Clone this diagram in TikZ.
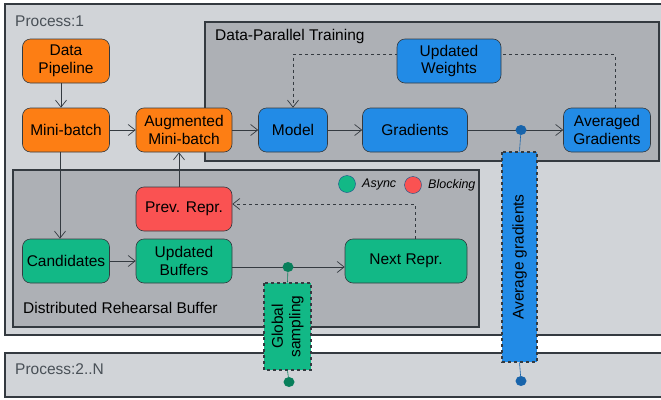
\documentclass[tikz,border=0pt]{standalone}
\usepackage{fontspec}
\setmainfont{Liberation Sans}
\usetikzlibrary{arrows.meta,shapes.geometric}
\definecolor{procgray}{HTML}{D1D4D8}
\definecolor{boxgray}{HTML}{ADB0B5}
\definecolor{edgegray}{HTML}{343A40}
\definecolor{titlegray}{HTML}{495057}
\definecolor{xorange}{HTML}{FD7E14}
\definecolor{xblue}{HTML}{228BE6}
\definecolor{xgreen}{HTML}{12B886}
\definecolor{xred}{HTML}{FA5252}
\definecolor{dotgreen}{HTML}{087F5B}
\definecolor{dotblue}{HTML}{1864AB}
\tikzset{
    proc/.style={draw=edgegray, line width=1.2pt, fill=procgray},
    group/.style={draw=edgegray, line width=1.2pt, fill=boxgray},
    title/.style={anchor=west, inner sep=0pt, font=\fontsize{15.5}{18}\selectfont},
    block/.style={draw=edgegray, line width=0.6pt, rounded corners=8pt, minimum height=44pt, align=center, inner sep=2pt, font=\fontsize{15.5}{17.5}\selectfont},
    flow/.style={draw=edgegray, line width=0.7pt, -{Straight Barb[length=7pt,width=11pt]}},
    back/.style={flow, dashed},
    comm/.style={draw=edgegray, line width=1.2pt, dashed, minimum width=#1, align=center, font=\fontsize{15.5}{17.5}\selectfont, rotate=90},
    syncdot/.style={ellipse, minimum width=11pt, minimum height=10pt, inner sep=0pt},
    legdot/.style={circle, draw=xblue!60!black, line width=0.4pt, minimum size=17pt, inner sep=0pt},
    legtext/.style={anchor=west, inner sep=0pt, font=\fontsize{12.5}{14}\selectfont\itshape},
}
\begin{document}
\begin{tikzpicture}[x=1pt,y=-1pt]
    \useasboundingbox (0,0) rectangle (661,399);
    % process boxes
    \draw[proc] (5,4) rectangle (668,335);
    \draw[proc] (5,353) rectangle (668,397);
    \node[title, text=titlegray] (p1) at (15,21) {Process:1};
    \node[title, text=titlegray] (p2) at (15,369) {Process:2..N};
    % groups
    \draw[group] (205,22) rectangle (659,161);
    \draw[group] (13,170) rectangle (479,327);
    \node[title] (dpt) at (215,36) {Data-Parallel Training};
    \node[title] (drb) at (23,308) {Distributed Rehearsal Buffer};
    % legend
    \node[legdot, fill=xgreen] (async) at (347,184) {};
    \node[legtext] (asynct) at (362,184) {Async};
    \node[legdot, fill=xred] (block) at (413,185) {};
    \node[legtext] (blockt) at (428,185) {Blocking};
    % blocks
    \node[block, fill=xorange, minimum width=87pt] (data) at (66,61) {Data\\Pipeline};
    \node[block, fill=xorange, minimum width=87pt] (mini) at (66,130) {Mini-batch};
    \node[block, fill=xorange, minimum width=96pt] (aug) at (184,130) {Augmented\\Mini-batch};
    \node[block, fill=xblue, minimum width=69pt] (model) at (293,130) {Model};
    \node[block, fill=xblue, minimum width=105pt] (grad) at (415,130) {Gradients};
    \node[block, fill=xblue, minimum width=87pt] (avg) at (607,130) {Averaged\\Gradients};
    \node[block, fill=xred, minimum width=96pt] (prev) at (184,209) {Prev. Repr.};
    \node[block, fill=xgreen, minimum width=87pt] (cand) at (66,261) {Candidates};
    \node[block, fill=xgreen, minimum width=96pt] (buf) at (184,261) {Updated\\Buffers};
    \node[block, fill=xgreen, minimum width=122pt] (next) at (406,261) {Next Repr.};
    % connectors
    \draw[flow] ([xshift=-5pt]data.south) -- ([xshift=-5pt]mini.north);
    \draw[flow] (mini) -- (aug);
    \draw[flow] (aug) -- (model);
    \draw[flow] (model) -- (grad);
    \draw[flow] (grad) -- (avg);
    \draw[back] ([xshift=8pt]avg.north) -- ++(0,-53) -| (model.north);
    \draw[flow] ([xshift=-6pt]mini.south) -- ([xshift=-6pt]cand.north);
    \draw[flow] (cand) -- (buf);
    \draw[flow] ([yshift=-6pt]buf.east) -- ([yshift=-6pt]next.west);
    \draw[flow] ([xshift=-5pt]prev.north) -- ([xshift=-5pt]aug.south);
    \draw[back] ([xshift=9pt]next.north) |- ([yshift=5pt]prev.east);
    \node[block, fill=xblue, minimum width=104pt] (upd) at (449,61) {Updated\\Weights};
    % global communication
    \node[syncdot, fill=dotblue] (gtop) at (521,130) {};
    \node[syncdot, fill=dotblue] (gbot) at (521,381) {};
    \node[comm=210pt, fill=xblue, minimum height=35pt] (avgcomm) at (519.5,257) {Average gradients};
    \draw[dotblue, line width=0.6pt] (gtop) -- (avgcomm.east);
    \draw[dotblue, line width=0.6pt] (avgcomm.west) -- (gbot);
    \node[syncdot, fill=dotgreen] (stop) at (288,267) {};
    \node[syncdot, fill=dotgreen] (sbot) at (289,382) {};
    \node[comm=87pt, fill=xgreen, minimum height=47pt] (samp) at (287.5,326.5) {Global\\sampling};
    \draw[dotgreen, line width=0.6pt] (stop) -- (samp.east);
    \draw[dotgreen, line width=0.6pt] (samp.west) -- (sbot);
\end{tikzpicture}
\end{document}
